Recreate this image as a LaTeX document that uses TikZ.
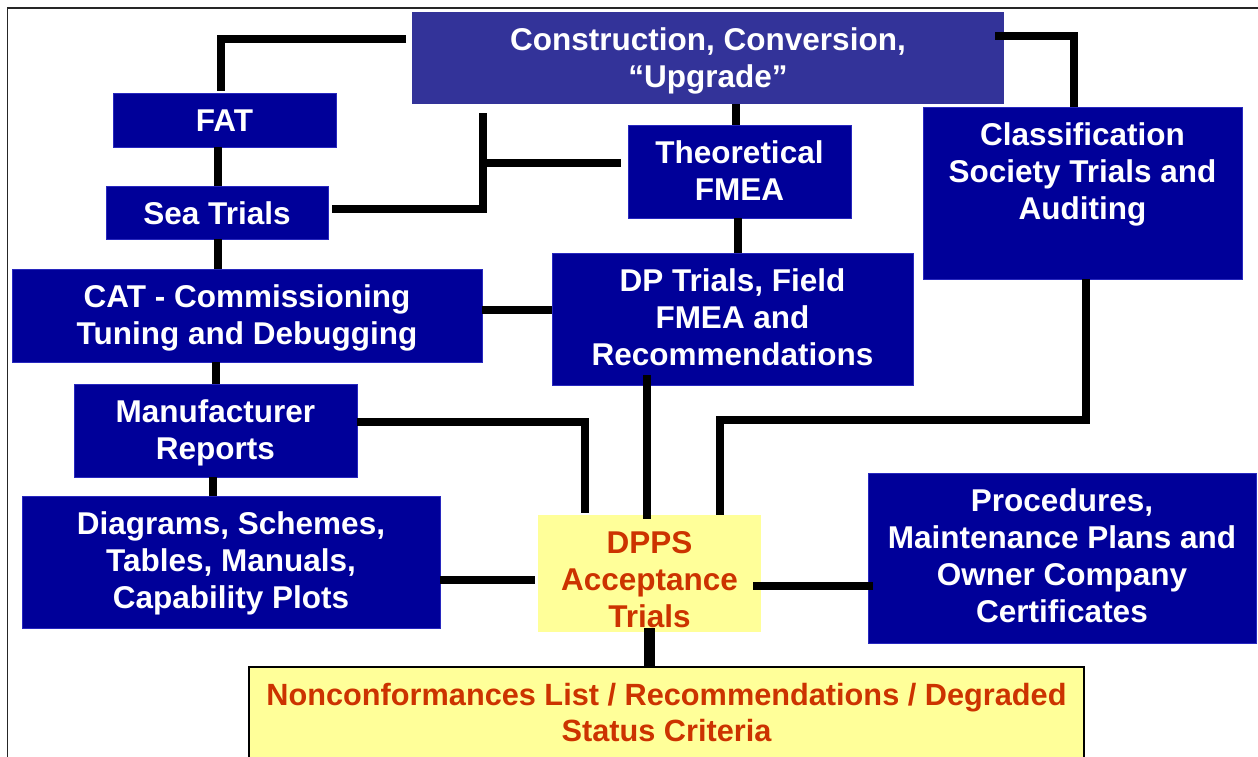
\documentclass[tikz,border=0pt]{standalone}
\usepackage{fontspec}
\setmainfont{Liberation Sans}
\usetikzlibrary{calc}
\definecolor{navy}{RGB}{0,0,153}
\definecolor{navyedge}{RGB}{40,40,190}
\definecolor{slate}{RGB}{51,51,153}
\definecolor{paleyellow}{RGB}{255,255,153}
\definecolor{rust}{RGB}{204,51,0}
% box contents: width, height, lines; first baseline 38pt below the top edge
\newcommand\boxtxt[3]{\parbox[c][#2][t]{#1}{\centering\vspace*{\dimexpr38pt-\ht\strutbox\relax}\strut#3\par}}

\begin{document}
\begin{tikzpicture}[x=1pt,y=-1pt,
  blk/.style={inner sep=0pt, outer sep=0pt, anchor=north west,
    font=\fontsize{31.5}{37}\selectfont\bfseries},
  bluebox/.style={blk, fill=navy, draw=navyedge, line width=0.8pt, text=white},
  topbox/.style={blk, fill=slate, text=white},
  yelbox/.style={blk, fill=paleyellow, text=rust},
  conn/.style={line width=7.5pt, black, line join=miter}]
\useasboundingbox (0,0) rectangle (1258,756);
\clip (0,0) rectangle (1258,756);

% outer frame
\draw[line width=1.8pt, black!85] (7.5,800) -- (7.5,8) -- (1300,8);

% boxes
\node[topbox] (cons) at (412,12) {\boxtxt{592pt}{92pt}{Construction, Conversion,\\“Upgrade”}};
\node[bluebox] (fat) at (113,93) {\boxtxt{223pt}{54pt}{FAT}};
\node[bluebox] (sea) at (106,186) {\boxtxt{222pt}{53pt}{Sea Trials}};
\node[bluebox] (theo) at (628,125) {\boxtxt{223pt}{93pt}{Theoretical\\FMEA}};
\node[bluebox] (cls) at (923,107) {\boxtxt{319pt}{172pt}{Classification\\Society Trials and\\Auditing}};
\node[bluebox] (cat) at (12,269) {\boxtxt{470pt}{93pt}{CAT - Commissioning\\Tuning and Debugging}};
\node[bluebox] (dp) at (552,253) {\boxtxt{361pt}{132pt}{DP Trials, Field\\FMEA and\\Recommendations}};
\node[bluebox] (mfr) at (74,384) {\boxtxt{283pt}{93pt}{Manufacturer\\Reports}};
\node[bluebox] (diag) at (22,496) {\boxtxt{418pt}{132pt}{Diagrams, Schemes,\\Tables, Manuals,\\Capability Plots}};
\node[yelbox] (dpps) at (538,515) {\boxtxt{223pt}{117pt}{DPPS\\Acceptance\\Trials}};
\node[bluebox] (proc) at (868,473) {\boxtxt{388pt}{170pt}{Procedures,\\Maintenance Plans and\\Owner Company\\Certificates}};
\node[yelbox, draw=black, line width=1.7pt, font=\fontsize{30.7}{36}\selectfont\bfseries] (ncr) at (249,667)
  {\boxtxt{835pt}{133pt}{Nonconformances List / Recommendations / Degraded\\Status Criteria}};

% bend points of the connectors
\coordinate (b1) at (221,39);
\coordinate (jt) at (483,113);
\coordinate (jm) at (483,163);
\coordinate (jb) at (483,209);
\coordinate (b2) at (585,422);
\coordinate (b3) at (647,450);
\coordinate (b4) at (1086,420);
\coordinate (b5) at (720,420);
\coordinate (b6) at (1074,36);
\coordinate (b7) at (488,580);
\coordinate (b8) at (815,586);

% connectors
\draw[conn] ($(cons.west|-b1)+(-6,0)$) -- (b1) -- ($(fat.north-|b1)+(0,-2)$);
\draw[conn] ([xshift=-6.5pt]fat.south) -- ([xshift=1pt]sea.north);
\draw[conn] (jt) -- (jb) -- ($(sea.east|-jb)+(4,0)$);
\draw[conn] (jm) -- ($(theo.west|-jm)+(-7,0)$);
\draw[conn] ([xshift=28pt]cons.south) -- ([xshift=-3.5pt]theo.north);
\draw[conn] ([xshift=-1.5pt]theo.south) -- ([xshift=5.5pt]dp.north);
\draw[conn] ([xshift=1pt]sea.south) -- ([xshift=-29pt]cat.north);
\draw[conn] ([yshift=5.5pt]cat.east) -- ([yshift=9pt]dp.west);
\draw[conn] ([xshift=-31pt]cat.south) -- ([xshift=0.5pt]mfr.north);
\draw[conn] ([xshift=-2.5pt]mfr.south) -- ([xshift=-18pt]diag.north);
\draw[conn] (mfr.east|-b2) -- (b2) -- ($(dpps.north-|b2)+(0,-2)$);
\draw[conn] ($(dp.south-|b3)+(0,-10)$) -- ($(dpps.north-|b3)+(0,4)$);
\draw[conn] (cls.south-|b4) -- (b4) -- (b5) -- (dpps.north-|b5);
\draw[conn] ($(cons.east|-b6)+(-9,0)$) -- (b6) -- (cls.north-|b6);
\draw[conn] (diag.east|-b7) -- ($(dpps.west|-b7)+(-3,0)$);
\draw[conn] ($(dpps.east|-b8)+(-8,0)$) -- ($(proc.west|-b8)+(5,0)$);
\draw[conn, line width=11pt] ($(dpps.south)+(0,-4)$) -- (dpps.south|-ncr.north);
\end{tikzpicture}
\end{document}
